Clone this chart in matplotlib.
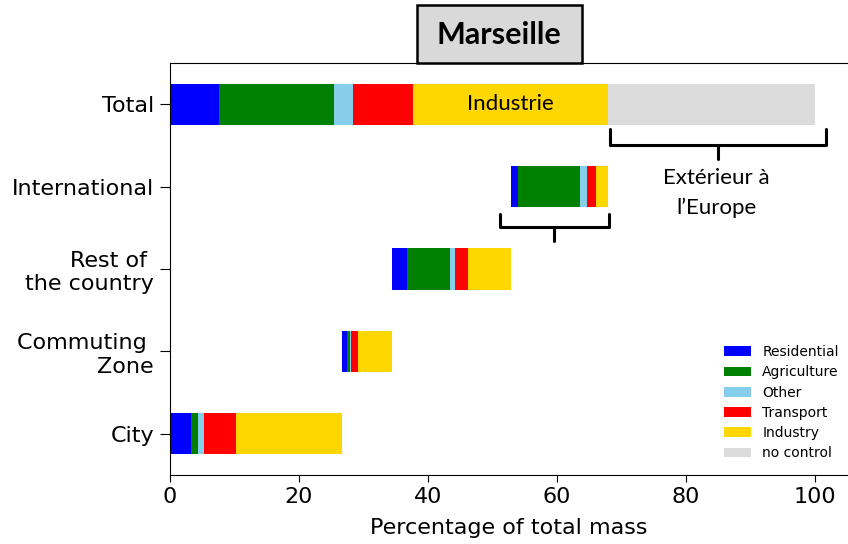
import matplotlib
matplotlib.use("Agg")
import matplotlib.pyplot as plt
from matplotlib.patches import Rectangle
import numpy as np

# rows from bottom to top
ROWS = ["City", "Commuting \nZone", "Rest of \nthe country", "International", "Total"]
SECTORS = ["Residential", "Agriculture", "Other", "Transport", "Industry", "no control"]
COLORS = ["#0000FF", "#008000", "#87CEEB", "#FF0000", "#FFD700", "#DCDCDC"]

city = [3.25, 1.13, 0.93, 4.89, 16.4, 0.0]
commuting = [0.86, 0.41, 0.23, 1.06, 5.2, 0.0]
rest = [2.32, 6.70, 0.82, 2.01, 6.65, 0.0]
international = [1.13, 9.58, 1.14, 1.33, 1.86, 0.0]
total = [7.57, 17.78, 3.05, 9.30, 30.15, 32.15]

data = np.array([city, commuting, rest, international, total])

# the four source rows cascade one after another, total starts at 0
row_offsets = [0.0]
for r in data[:3]:
    row_offsets.append(row_offsets[-1] + r.sum())
row_offsets.append(0.0)

W, H = 848, 544
fig = plt.figure(figsize=(W / 100, H / 100), dpi=100)
px_per_unit = 6.45
ax = fig.add_axes([170 / W, 1 - 475 / H, (W - 170) / W, (475 - 63) / H])

y = np.arange(len(ROWS))
left = np.array(row_offsets, dtype=float)
for j, (name, col) in enumerate(zip(SECTORS, COLORS)):
    ax.barh(y, data[:, j], left=left, height=0.5, color=col, label=name)
    left = left + data[:, j]

ax.set_xlim(0, (W - 170) / px_per_unit)
ax.set_ylim(-0.5, 4.5)
ax.set_xticks([0, 20, 40, 60, 80, 100])
ax.set_yticks(y)
ax.set_yticklabels(ROWS)
ax.tick_params(labelsize=16, length=5)
ax.tick_params(axis="y", length=7, pad=4.5)
ax.set_xlabel("Percentage of total mass", fontsize=16, labelpad=8)
ax.spines["right"].set_visible(False)

ax.legend(loc="lower right", bbox_to_anchor=(1.005, 0.005), fontsize=10,
          frameon=False, handlelength=2.0, labelspacing=0.45)

# annotations
ind_start = sum(total[:4])
ind_end = ind_start + total[4]
ax.text((ind_start + ind_end) / 2, 4, "Industrie", ha="center", va="center",
        fontsize=16, family="Lato")


def brace(x0, x1, ytop, yh, ytip):
    xm = (x0 + x1) / 2
    ax.plot([x0, x0, x1, x1], [ytop, yh, yh, ytop], color="black", lw=2.2,
            solid_joinstyle="round", solid_capstyle="round", clip_on=False)
    ax.plot([xm, xm], [yh, ytip], color="black", lw=2.2,
            solid_capstyle="round", clip_on=False)


brace(ind_end + 0.3, 100 + 1.7, 3.695, 3.51, 3.33)
ax.text((ind_end + 101.7) / 2, 3.22, "Extérieur à\nl\u2019Europe", ha="center",
        va="top", fontsize=16, family="Lato", linespacing=1.55)

intl_start = row_offsets[3]
intl_end = intl_start + sum(international)
brace(intl_start - 1.7, intl_end + 0.1, 2.67, 2.505, 2.34)

# title box
fig.patches.append(Rectangle((417 / W, 1 - 63 / H), 165 / W, 58 / H,
                             transform=fig.transFigure, facecolor="#D9D9D9",
                             edgecolor="black", lw=1.8, zorder=0))
fig.text(499 / W, 1 - 35 / H, "Marseille", ha="center", va="center",
         fontsize=22, fontweight="bold", family="Lato")

fig.savefig("out.png", dpi=100)
